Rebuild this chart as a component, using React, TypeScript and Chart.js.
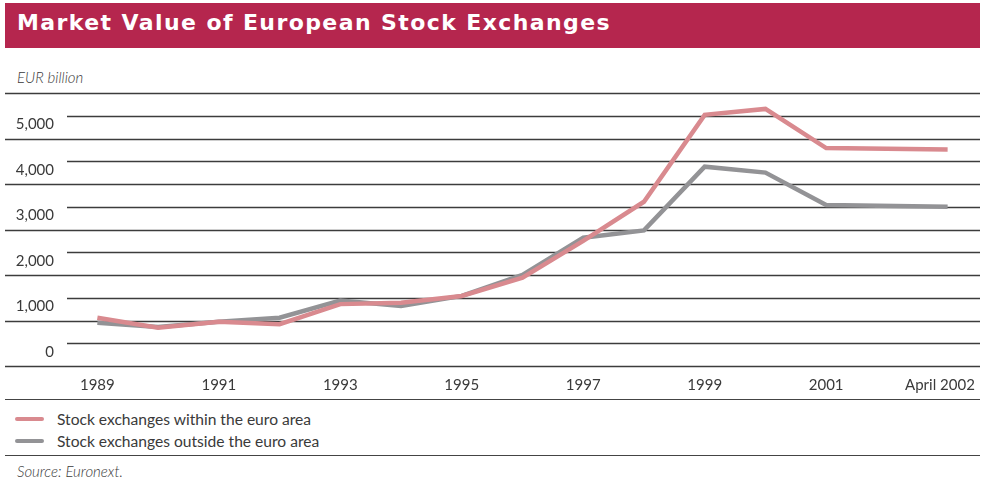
import React, { useEffect, useRef } from "react";
import { Chart, registerables } from "chart.js";

Chart.register(...registerables);

const TITLE = "Market Value of European Stock Exchanges";
const UNIT_LABEL = "EUR billion";
const SOURCE = "Source: Euronext.";

const categories = [
  "1989", "1990", "1991", "1992", "1993", "1994", "1995", "1996",
  "1997", "1998", "1999", "2000", "2001", "", "April 2002",
];

const euroArea = [1060, 840, 970, 920, 1360, 1390, 1540, 1940, 2750, 3610, 5520, 5650, 4790, null, 4760];
const outsideEuroArea = [950, 860, 970, 1060, 1440, 1320, 1540, 2000, 2820, 2980, 4380, 4250, 3540, null, 3500];

const seriesNames = [
  "Stock exchanges within the euro area",
  "Stock exchanges outside the euro area",
];
const seriesColors = ["#D98A8F", "#939396"];

const Y_MIN = 0;
const Y_MAX = 6000;
const Y_STEP = 500;

const FONT = "Lato, 'Open Sans', sans-serif";
const TEXT_COLOR = "#3a3a3a";

const gridPlugin = {
  id: "customGrid",
  beforeDatasetsDraw(chart: any) {
    const { ctx, chartArea, scales } = chart;
    const y = scales.y;
    ctx.save();
    ctx.strokeStyle = "#3c3c3c";
    ctx.lineWidth = 1.3;
    y.ticks.forEach((t: any) => {
      const py = Math.round(y.getPixelForValue(t.value)) + 0.5;
      const x0 = t.value % 1000 === 0 ? 5 : chartArea.left;
      ctx.beginPath();
      ctx.moveTo(x0, py);
      ctx.lineTo(chartArea.right + 2, py);
      ctx.stroke();
    });
    ctx.restore();
  },
};

export default function App() {
  const canvasRef = useRef<HTMLCanvasElement | null>(null);

  useEffect(() => {
    if (!canvasRef.current) return;
    const chart = new Chart(canvasRef.current, {
      type: "line",
      data: {
        labels: categories,
        datasets: [
          {
            label: seriesNames[0],
            data: euroArea,
            borderColor: seriesColors[0],
            backgroundColor: seriesColors[0],
            borderWidth: 4.5,
            pointRadius: 0,
            tension: 0,
            spanGaps: true,
          },
          {
            label: seriesNames[1],
            data: outsideEuroArea,
            borderColor: seriesColors[1],
            backgroundColor: seriesColors[1],
            borderWidth: 4.5,
            pointRadius: 0,
            tension: 0,
            spanGaps: true,
          },
        ],
      },
      options: {
        animation: false,
        responsive: false,
        maintainAspectRatio: false,
        layout: { padding: { top: 93, left: 0, right: 6, bottom: 0 } },
        plugins: {
          legend: { display: false },
          tooltip: { enabled: false },
          title: { display: false },
        },
        scales: {
          x: {
            type: "category",
            offset: true,
            grid: { display: false, drawTicks: false },
            border: { display: false },
            ticks: {
              autoSkip: false,
              maxRotation: 0,
              minRotation: 0,
              padding: 10,
              color: TEXT_COLOR,
              font: { family: FONT, size: 15 },
              callback: (_v: any, i: number) =>
                i % 2 === 0 ? (i === categories.length - 1 ? categories[i] + "    " : categories[i]) : "",
            },
            afterFit: (scale: any) => {
              scale.height = 34;
              scale.paddingLeft = 0;
              scale.paddingRight = 0;
            },
          },
          y: {
            min: Y_MIN,
            max: Y_MAX,
            grid: { display: false, drawTicks: false },
            border: { display: false },
            ticks: {
              stepSize: Y_STEP,
              padding: 13,
              labelOffset: -14,
              color: TEXT_COLOR,
              font: { family: FONT, size: 15 },
              callback: (v: any) =>
                Number(v) % 1000 === 0 && Number(v) < Y_MAX ? Number(v).toLocaleString("en-US") : "",
            },
            afterFit: (scale: any) => {
              scale.width = 67;
            },
          },
        },
      },
      plugins: [gridPlugin],
    });
    return () => chart.destroy();
  }, []);

  return (
    <div
      style={{
        position: "fixed",
        left: 0,
        top: 0,
        width: 984,
        height: 486,
        background: "#fff",
        fontFamily: FONT,
        color: TEXT_COLOR,
        overflow: "hidden",
      }}
    >
      <div
        style={{
          position: "absolute",
          left: 5,
          top: 3,
          width: 975,
          height: 45,
          background: "#B5264E",
        }}
      >
        <div
          style={{
            position: "absolute",
            left: 12,
            top: 7,
            color: "#fff",
            fontFamily: "'DejaVu Sans', sans-serif",
            fontWeight: 700,
            fontSize: 22,
            letterSpacing: 1.4,
            whiteSpace: "nowrap",
          }}
        >
          {TITLE}
        </div>
      </div>
      <div
        style={{
          position: "absolute",
          left: 17,
          top: 68,
          fontStyle: "italic",
          fontWeight: 300,
          fontSize: 15,
          whiteSpace: "nowrap",
        }}
      >
        {UNIT_LABEL}
      </div>
      <canvas
        ref={canvasRef}
        width={984}
        height={400}
        style={{ position: "absolute", left: 0, top: 0, width: 984, height: 400 }}
      />
      <div style={{ position: "absolute", left: 5, top: 399, width: 975, height: 0, borderTop: "1.5px solid #444" }} />
      {seriesNames.map((name, i) => (
        <div key={name} style={{ position: "absolute", left: 15, top: 409 + i * 22, height: 20, whiteSpace: "nowrap" }}>
          <div
            style={{
              position: "absolute",
              left: 0,
              top: 8,
              width: 29,
              height: 4,
              background: seriesColors[i],
              borderRadius: 2,
            }}
          />
          <div style={{ position: "absolute", left: 42, top: 0, fontSize: 15.6, lineHeight: "20px" }}>{name}</div>
        </div>
      ))}
      <div style={{ position: "absolute", left: 5, top: 455, width: 975, height: 0, borderTop: "1.5px solid #444" }} />
      <div
        style={{
          position: "absolute",
          left: 17,
          top: 462,
          fontStyle: "italic",
          fontWeight: 300,
          fontSize: 15,
          whiteSpace: "nowrap",
        }}
      >
        {SOURCE}
      </div>
    </div>
  );
}
